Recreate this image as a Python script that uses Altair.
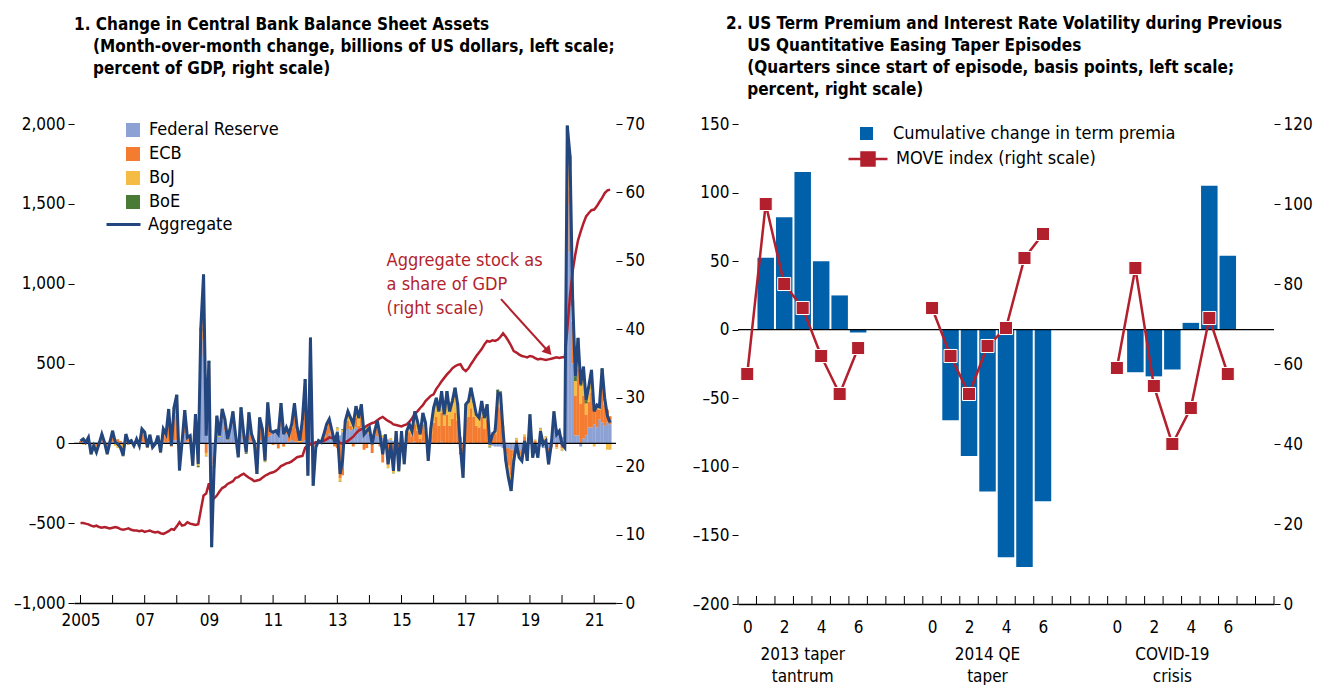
import altair as alt
import pandas as pd

FONT = "Liberation Sans Narrow, Arial Narrow, DejaVu Sans Condensed, sans-serif"

# ---------------- Panel 1 data (monthly, Jan 2005 - Jul 2021) ----------------
agg_values = [
    15, 27, 6, 37, -67, -15, -56, 0, 58, 6, -67, 6,            # 2005
    79, 6, -4, -25, -77, 58, 6, 17, -15, 27, -15, 90,          # 2006
    70, -25, 54, -25, -4, 48, -56, 90, 58, 215, -15, 225,      # 2007
    304, -170, 6, 208, 37, 48, -140, 183, -130, 725, 1058, 48, # 2008
    517, -650, -150, 173, 48, 215, 152, 27, 100, 200, 48, -87, # 2009
    225, 58, -56, 194, 58, 6, -192, 162, 90, -108, 256, 79,    # 2010
    69, 79, 58, 252, 58, 100, 58, 121, 252, 100, 17, 152,      # 2011
    402, -202, 662, -265, -25, 17, 6, 58, 121, 152, 79, 6,     # 2012
    69, -192, -110, 140, 200, 160, 119, 233, 160, 244, 56, 77, # 2013
    98, -6, 77, 140, 56, -69, 56, -131, -6, -173, 77, -173,    # 2014
    77, -131, 77, 119, 77, 200, 140, 56, 190, 129, -110, 98,   # 2015
    223, 285, 200, 327, 181, 327, 200, 265, 348, 244, -27, -215,  # 2016
    244, 265, 348, 265, 181, 160, 265, 160, 244, -6, 56, 77,   # 2017
    317, 306, 77, -110, -215, -298, -110, -6, -90, -110, 15, -110,  # 2018
    181, -90, -6, -90, 77, -6, 15, -131, -6, 200, 56, 77,      # 2019
    -6, -27, 1990, 1800, 900, 420, 660, 370, 480, 270, 360, 460,  # 2020
    200, 240, 230, 470, 280, 170, 130,                         # 2021
]
fed_values = [
    5, 10, 5, 10, 5, 5, 5, 5, 10, 10, 5, 10,
    10, 5, 5, 5, 5, 5, 5, 5, 5, 5, 5, 10,
    5, 5, 5, 5, 5, 5, 5, 10, 5, 10, -10, 20,
    20, -20, 10, 60, 10, 10, -10, 40, 20, 550, 650, 130,
    350, -400, -80, 140, 40, 150, 80, 20, 90, 120, 40, -30,
    60, 30, 10, 20, 10, -10, -20, 20, 10, 10, 40, 50,
    70, 80, 90, 100, 80, 60, 10, 20, 10, 10, 0, 10,
    20, -20, 150, -40, -10, 0, 0, 10, 20, 60, 40, 20,
    80, 50, 70, 90, 90, 80, 90, 100, 70, 100, 60, 70,
    60, 55, 50, 45, 40, 35, 30, 25, 20, 15, 10, 5,
    5, -5, 5, 0, 5, 10, 0, -5, 10, 0, -10, 5,
    0, 5, -5, 10, 0, 0, -5, 5, 0, -5, -10, -5,
    0, 5, 0, 5, 0, -5, 5, 0, 0, -10, -15, -20,
    -20, -20, -30, -30, -30, -40, -40, -40, -40, -50, -40, -50,
    10, -40, -30, -40, -20, -30, -30, -30, 20, 100, 90, 60,
    40, -10, 1500, 1200, 500, 50, 50, -20, 30, 50, 100, 100,
    120, 100, 150, 130, 110, 130, 120,
]
ecb_values = [
    10, 20, 5, 20, -30, 0, -20, 5, 30, 0, -30, 5,
    50, 15, 20, 10, -10, 40, 10, 15, -5, 20, 0, 60,
    50, -10, 40, -10, 0, 35, -40, 60, 40, 160, -10, 150,
    230, -120, -5, 120, 20, 30, -100, 110, -120, 120, 300, -60,
    120, -180, -50, 20, 0, 50, 60, 5, 5, 60, 5, -40,
    130, 20, -50, 140, 40, 20, -130, 120, 70, -90, 180, 20,
    -10, -5, -30, 120, -20, 30, 40, 80, 200, 70, 10, 120,
    320, -150, 420, -180, -10, 10, 0, 30, 80, 70, 25, -20,
    -30, -220, -200, 10, 50, 30, -20, 60, 40, 70, -40, -30,
    0, -60, 0, 50, -20, -120, 0, -130, -40, -140, 20, -130,
    30, -80, 30, 70, 40, 110, 80, 30, 110, 80, -60, 50,
    130, 160, 110, 180, 110, 180, 110, 150, 190, 140, 40, -100,
    150, 160, 220, 160, 110, 100, 160, 90, 150, 20, 50, 60,
    230, 220, 80, -40, -110, -160, -40, 20, -30, -40, 40, -40,
    120, -30, 15, -35, 60, 15, 30, -70, -25, 60, -25, 10,
    -30, -10, 300, 380, 260, 250, 420, 250, 270, 130, 160, 220,
    90, 120, 60, 230, 130, 80, 50,
]
boj_values = [
    0, -8, -6, 5, -40, -20, -40, -12, 15, -6, -40, -10,
    15, -16, -30, -40, -70, 10, -10, -5, -15, 0, -20, 15,
    10, -20, 5, -20, -10, 5, -20, 15, 10, 35, 0, 45,
    40, -20, 0, 20, 5, 5, -20, 25, -20, 30, 60, -20,
    30, -50, -15, 8, 5, 10, 10, 0, 3, 15, 0, -12,
    25, 5, -10, 25, 5, -5, -35, 15, 8, -25, 30, 5,
    5, 2, -4, 25, -3, 8, 6, 18, 35, 15, 5, 18,
    50, -25, 70, -35, -5, 5, 4, 15, 18, 18, 12, 5,
    15, -20, 15, 35, 55, 45, 45, 65, 45, 65, 33, 35,
    35, 0, 25, 40, 33, 16, 24, -25, 14, -45, 45, -45,
    40, -45, 40, 45, 30, 75, 55, 30, 65, 45, -40, 40,
    85, 110, 90, 125, 65, 135, 88, 100, 145, 100, -50, -105,
    85, 90, 115, 90, 65, 60, 90, 65, 85, -10, 18, 33,
    95, 95, 25, -35, -70, -90, -28, 13, -18, -18, 14, -18,
    45, -18, 8, -13, 34, 8, 14, -28, 0, 35, -10, 5,
    -14, -5, 130, 160, 100, 90, 150, 110, 140, 70, 80, 110,
    -20, 10, 10, 90, 30, -40, -40,
]
boe_values = [
    0, 5, 2, 2, -2, 0, -1, 2, 3, 2, -2, 1,
    4, 2, 1, 0, -2, 3, 1, 2, 0, 2, 0, 5,
    5, 0, 4, 0, 1, 3, -1, 5, 3, 10, 5, 10,
    14, -10, 1, 8, 2, 3, -10, 8, -10, 25, 48, -2,
    17, -20, -5, 5, 3, 5, 2, 2, 2, 5, 3, -5,
    10, 3, -6, 9, 3, 1, -7, 7, 2, -3, 6, 4,
    4, 2, 2, 7, 1, 2, 2, 3, 7, 5, 2, 4,
    12, -7, 22, -10, 0, 2, 2, 3, 3, 4, 2, 1,
    4, -2, 5, 5, 5, 5, 4, 8, 5, 9, 3, 2,
    3, -1, 2, 5, 3, 0, 2, -1, 0, -3, 2, -3,
    2, -1, 2, 4, 2, 5, 5, 1, 5, 4, 0, 3,
    8, 10, 5, 12, 6, 12, 7, 10, 13, 9, -7, -5,
    9, 10, 13, 10, 6, 5, 10, 5, 9, -6, 3, 4,
    12, 11, 2, -5, -5, -8, -2, 1, -2, -2, 1, -2,
    6, -2, 1, -2, 3, 1, 1, -3, -1, 5, 1, 2,
    -2, -2, 60, 60, 40, 30, 40, 30, 40, 20, 20, 30,
    10, 10, 10, 20, 10, 0, 0,
]
gdp_share = [
    11.7, 11.7, 11.6, 11.5, 11.3, 11.2, 11.3, 11.1, 11.0, 11.1, 11.0, 10.9,
    11.0, 11.1, 11.0, 10.8, 10.7, 10.8, 10.9, 10.7, 10.6, 10.6, 10.5, 10.6,
    10.4, 10.5, 10.6, 10.4, 10.3, 10.4, 10.2, 10.1, 10.3, 10.5, 10.8, 10.7,
    11.2, 11.8, 11.3, 11.4, 11.8, 11.6, 11.5, 11.4, 11.5, 13.6, 15.7, 16.0,
    17.5, 15.4, 15.3, 15.7, 16.3, 16.8, 17.0, 17.4, 17.6, 17.8, 18.3, 18.4,
    18.7, 18.9, 18.6, 18.3, 18.1, 17.8, 17.9, 18.0, 18.3, 18.6, 18.8, 19.0,
    19.1, 19.3, 19.6, 20.0, 20.2, 20.4, 20.5, 20.7, 21.0, 21.3, 21.4, 21.5,
    22.7, 22.9, 23.2, 23.3, 23.5, 23.4, 23.6, 23.7, 23.9, 24.2, 24.1, 24.0,
    23.8, 23.4, 23.3, 23.5, 23.7, 24.0, 24.3, 24.8, 25.2, 25.4, 25.6, 25.9,
    26.1, 26.3, 26.4, 26.7, 27.0, 27.2, 26.9, 26.6, 26.4, 26.1, 26.0, 25.9,
    25.8, 26.0, 26.1, 26.5, 27.0, 27.6, 28.0, 28.5, 28.9, 29.5, 29.9, 30.3,
    30.5, 31.3, 31.8, 32.4, 32.9, 33.4, 33.8, 34.3, 34.6, 34.8, 34.9, 34.2,
    33.9, 34.3, 34.9, 35.5, 36.1, 36.6, 37.1, 37.8, 38.3, 38.2, 38.4, 38.3,
    38.5, 38.9, 39.4, 38.9, 38.3, 37.6, 36.8, 36.6, 36.3, 36.1, 36.0, 35.9,
    36.1, 36.0, 35.8, 35.6, 35.7, 35.6, 35.5, 35.6, 35.7, 35.8, 35.9, 35.8,
    35.9, 35.9, 40.0, 45.0, 48.5, 51.0, 53.0, 54.3, 55.5, 56.5, 57.0, 57.4,
    57.5, 58.0, 58.6, 59.2, 59.9, 60.3, 60.4,
]
banks = ["Federal Reserve", "ECB", "BoJ", "BoE"]
bank_colors = ["#8DA2D4", "#F47C30", "#F4BC44", "#4A7B35"]
year_ticks = list(range(2005, 2022))
label_years = [2005, 2007, 2009, 2011, 2013, 2015, 2017, 2019, 2021]
annotation_text = "Aggregate stock as\na share of GDP\n(right scale)"

# ---------------- Panel 2 data ----------------
episodes = ["2013 taper\ntantrum", "2014 QE\ntaper", "COVID-19\ncrisis"]
quarters = [0, 1, 2, 3, 4, 5, 6]
term_premia = [
    [None, 52.5, 82, 115, 50, 25, -2],
    [None, -66, -92, -118, -166, -173, -125],
    [None, -31, -34, -29, 5, 105, 54],
]
move_index = [
    [57.5, 100, 80, 74, 62, 52.5, 64],
    [74, 62, 52.5, 64.5, 69, 86.5, 92.5],
    [59, 84, 54.5, 40, 49, 71.5, 57.5],
]

RED = "#B21F2D"
NAVY = "#23467F"
BLUE = "#0061AA"
W, H = 542, 479
W2, H2 = 536, 480
IND = "\u200b"  # keeps the indent spaces from being trimmed
DASH_LABEL = "replace(format(datum.value, ',.0f'), '\u2212', '\u2013')"

# ---------------- Build panel 1 ----------------
dates = pd.date_range("2005-01-01", periods=len(agg_values), freq="MS")
rows = []
for k, (name, vals) in enumerate(zip(banks, [fed_values, ecb_values, boj_values, boe_values])):
    for d, v in zip(dates, vals):
        rows.append({"date": d, "bank": name, "value": v, "ord": k})
bars_df = pd.DataFrame(rows)
agg_df = pd.DataFrame({"date": dates, "agg": agg_values, "series": "Aggregate"})
gdp_df = pd.DataFrame({"date": dates, "gdp": gdp_share})
ticks_df = pd.DataFrame({"yr": pd.to_datetime([f"{y}-01-01" for y in year_ticks])})

x_dom = ["2004-10-19", "2021-09-06"]
x_left = alt.X(
    "date:T", title=None, scale=alt.Scale(domain=x_dom, padding=0, nice=False),
    axis=alt.Axis(
        values=[alt.DateTime(year=y, month=1, date=1) for y in label_years],
        labelExpr="year(datum.value) == 2005 ? '2005' : timeFormat(datum.value, '%y')",
        ticks=False, domain=True, domainColor="black", domainWidth=1.3,
        labelPadding=9, labelAngle=0, labelOverlap=False,
    ),
)
y_left_scale = alt.Scale(domain=[-1000, 2000], nice=False)

bars = alt.Chart(bars_df).mark_bar(size=2.9).encode(
    x=x_left,
    y=alt.Y("value:Q", stack="zero", title=None, scale=y_left_scale,
            axis=alt.Axis(values=[-1000, -500, 0, 500, 1000, 1500, 2000], labelExpr=DASH_LABEL,
                          tickSize=6, labelPadding=3, orient="left")),
    color=alt.Color("bank:N", scale=alt.Scale(domain=banks, range=bank_colors),
                    legend=alt.Legend(orient="none", legendX=50, legendY=-3, title=None,
                                      symbolType="square", symbolSize=196, symbolStrokeWidth=0,
                                      labelOffset=7, rowPadding=6, labelLimit=400)),
    order=alt.Order("ord:Q"),
)
zero_l = alt.Chart(pd.DataFrame({"z": [0]})).mark_rule(color="black", strokeWidth=1.3).encode(y="z:Q")
xt_l = alt.Chart(ticks_df).mark_rule(color="black", strokeWidth=1).encode(
    x=alt.X("yr:T", title=None), y=alt.value(H - 8), y2=alt.value(H))
bars_grp = alt.layer(bars, zero_l, xt_l)

gdp_line = alt.Chart(gdp_df).mark_line(color=RED, strokeWidth=2.5).encode(
    x=alt.X("date:T", title=None),
    y=alt.Y("gdp:Q", title=None, scale=alt.Scale(domain=[0, 70], nice=False),
            axis=alt.Axis(orient="right", values=[0, 10, 20, 30, 40, 50, 60, 70],
                          tickSize=6, labelPadding=3)),
)
ann_df = pd.DataFrame({"date": [pd.Timestamp("2014-07-15")], "v": [51.3], "label": [annotation_text]})
ann_text = alt.Chart(ann_df).mark_text(align="left", baseline="top", lineBreak="\n", lineHeight=24,
                                       fontSize=18, color=RED).encode(
    x=alt.X("date:T", title=None), y=alt.Y("v:Q", title=None), text="label:N")
arrow_df = pd.DataFrame({"x1": [pd.Timestamp("2018-02-06")], "x2": [pd.Timestamp("2019-07-19")],
                         "y1": [44.4], "y2": [36.9]})
arrow_rule = alt.Chart(arrow_df).mark_rule(color=RED, strokeWidth=2).encode(
    x=alt.X("x1:T", title=None), x2="x2:T", y=alt.Y("y1:Q", title=None), y2="y2:Q")
arrow_head = alt.Chart(arrow_df).mark_point(shape="triangle", filled=True, angle=138, size=110,
                                             color=RED, opacity=1).encode(
    x=alt.X("x2:T", title=None), y=alt.Y("y2:Q", title=None))
gdp_grp = alt.layer(gdp_line, ann_text, arrow_rule, arrow_head)

agg_line = alt.Chart(agg_df).mark_line(strokeWidth=3).encode(
    x=alt.X("date:T", title=None),
    y=alt.Y("agg:Q", title=None, scale=y_left_scale, axis=None),
    color=alt.Color("series:N", scale=alt.Scale(domain=["Aggregate"], range=[NAVY]),
                    legend=alt.Legend(orient="none", legendX=31, legendY=82, title=None,
                                      symbolType="stroke", symbolSize=1156, symbolStrokeWidth=3,
                                      labelOffset=6, labelLimit=400)),
)

left = alt.layer(bars_grp, gdp_grp, agg_line).resolve_scale(y="independent", color="independent").properties(
    width=W, height=H,
    title=alt.TitleParams(
        ["1. Change in Central Bank Balance Sheet Assets",
         IND + "\u00a0\u00a0\u00a0\u2009(Month-over-month change, billions of US dollars, left scale;",
         IND + "\u00a0\u00a0\u00a0\u2009percent of GDP, right scale)"],
        anchor="start", frame="group", dx=0, offset=37, fontSize=17, fontWeight="bold",
        lineHeight=22, font=FONT, color="black"),
)

# ---------------- Build panel 2 ----------------
tp_rows, mv_rows = [], []
for g, ep in enumerate(episodes):
    for q in quarters:
        slot = 10 * g + q
        if term_premia[g][q] is not None:
            tp_rows.append({"slot": slot, "tp": term_premia[g][q],
                            "s1": "Cumulative change in term premia"})
        mv_rows.append({"slot": slot, "move": move_index[g][q], "grp": g,
                        "s2": "MOVE index (right scale)"})
tp_df = pd.DataFrame(tp_rows)
mv_df = pd.DataFrame(mv_rows)
n_slots = 10 * (len(episodes) - 1) + len(quarters) + 2
rt_df = pd.DataFrame({"b": [s - 0.5 for s in range(n_slots + 1)]})
ep_df = pd.DataFrame({"slot": [10 * g + 3 for g in range(len(episodes))], "label": episodes})
label_slots = [10 * g + q for g in range(len(episodes)) for q in quarters if q % 2 == 0]

x_right = alt.X("slot:Q", title=None,
                scale=alt.Scale(domain=[-0.5, n_slots - 0.5], nice=False, zero=False, padding=0),
                axis=alt.Axis(values=label_slots, labelExpr="datum.value % 10", ticks=False,
                              domain=True, domainColor="black", domainWidth=1.3, labelPadding=15,
                              grid=False))
tp_bars = alt.Chart(tp_df).mark_bar(size=16.5).encode(
    x=x_right,
    y=alt.Y("tp:Q", title=None, scale=alt.Scale(domain=[-200, 150], nice=False),
            axis=alt.Axis(values=[-200, -150, -100, -50, 0, 50, 100, 150], tickSize=6,
                          labelPadding=3, orient="left", labelExpr=DASH_LABEL)),
    color=alt.Color("s1:N", scale=alt.Scale(range=[BLUE]),
                    legend=alt.Legend(orient="none", legendX=109, legendY=-10, title=None,
                                      symbolType="M-0.333,-0.333H0.333V0.333H-0.333Z",
                                      symbolSize=1521, symbolStrokeWidth=0, labelOffset=7,
                                      labelLimit=400)),
)
zero_r = alt.Chart(pd.DataFrame({"z": [0]})).mark_rule(color="black", strokeWidth=1.3).encode(y="z:Q")
xt_r = alt.Chart(rt_df).mark_rule(color="black", strokeWidth=1).encode(
    x=alt.X("b:Q", title=None), y=alt.value(H2 - 8), y2=alt.value(H2))
ep_text = alt.Chart(ep_df).mark_text(fontSize=17, lineBreak="\n", lineHeight=22, baseline="middle",
                                     align="center", color="black").encode(
    x=alt.X("slot:Q", title=None), y=alt.value(H2 + 51), text="label:N")
tp_grp = alt.layer(tp_bars, zero_r, xt_r, ep_text)

move_line = alt.Chart(mv_df).mark_line(strokeWidth=2.5).encode(
    x=alt.X("slot:Q", title=None),
    y=alt.Y("move:Q", title=None, scale=alt.Scale(domain=[0, 120], nice=False),
            axis=alt.Axis(orient="right", values=[0, 20, 40, 60, 80, 100, 120], tickSize=6,
                          labelPadding=3)),
    color=alt.Color("s2:N", scale=alt.Scale(range=[RED]),
                    legend=alt.Legend(orient="none", legendX=109, legendY=14, title=None,
                                      symbolType="M-1,0H-0.333M0.333,0H1M-0.333,-0.333H0.333V0.333H-0.333Z",
                                      symbolSize=1521, symbolStrokeWidth=2.5, symbolFillColor=RED,
                                      labelOffset=7, labelLimit=400)),
    detail="grp:N",
)
move_pts = alt.Chart(mv_df).mark_point(shape="square", filled=True, size=170, color=RED,
                                        stroke="white", strokeWidth=1, opacity=1).encode(
    x=alt.X("slot:Q", title=None), y=alt.Y("move:Q", title=None))
mv_grp = alt.layer(move_line, move_pts)

right = alt.layer(tp_grp, mv_grp).resolve_scale(y="independent", color="independent").properties(
    width=W2, height=H2,
    title=alt.TitleParams(
        ["2. US Term Premium and Interest Rate Volatility during Previous",
         IND + "\u00a0\u00a0\u00a0\u00a0US Quantitative Easing Taper Episodes",
         IND + "\u00a0\u00a0\u00a0\u00a0(Quarters since start of episode, basis points, left scale;",
         IND + "\u00a0\u00a0\u00a0\u00a0percent, right scale)"],
        anchor="start", frame="group", dx=-12, offset=15, fontSize=17, fontWeight="bold",
        lineHeight=22, font=FONT, color="black"),
)

chart = alt.hconcat(left, right, spacing=122, bounds="flush").properties(
    padding={"left": 5, "top": 7, "right": 0, "bottom": 0}
).configure_view(stroke=None).configure_axis(
    labelFont=FONT, labelFontSize=17, labelColor="black", tickColor="black", grid=False,
    domain=False,
).configure_legend(labelFont=FONT, labelFontSize=18, labelColor="black").configure_text(font=FONT)

chart.save("out.html", embed_options={"renderer": "svg", "actions": False})
